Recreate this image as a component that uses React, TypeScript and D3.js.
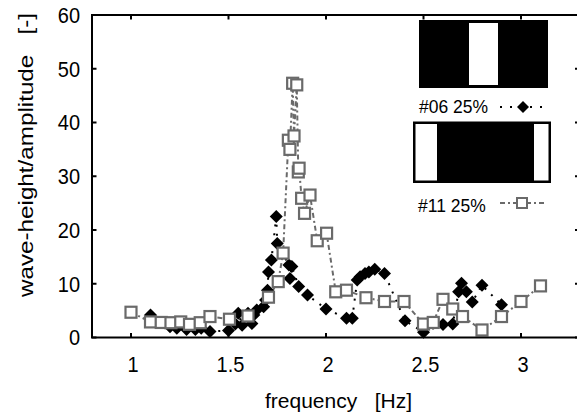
import React from "react";
import * as d3 from "d3";

const xTicks = [1, 1.5, 2, 2.5, 3];
const yTicks = [0, 10, 20, 30, 40, 50, 60];

const s06Freq = [1.10, 1.20, 1.235, 1.285, 1.33, 1.36, 1.405, 1.50, 1.535, 1.55, 1.57, 1.60, 1.62, 1.63, 1.645, 1.68, 1.69, 1.70, 1.705, 1.72, 1.745, 1.75, 1.81, 1.815, 1.825, 1.86, 1.905, 2.00, 2.105, 2.135, 2.16, 2.175, 2.20, 2.22, 2.25, 2.30, 2.405, 2.50, 2.60, 2.65, 2.68, 2.695, 2.72, 2.75, 2.80, 2.90];
const s06Amp = [4.2, 2.0, 1.7, 1.5, 1.5, 1.7, 1.1, 1.3, 2.5, 4.5, 2.3, 4.5, 2.6, 4.2, 5.1, 5.7, 7.0, 8.8, 12.2, 14.4, 22.5, 17.5, 13.5, 11.0, 13.2, 9.5, 7.9, 5.3, 3.6, 3.6, 10.7, 11.3, 11.9, 12.2, 12.7, 11.9, 3.1, 1.0, 2.4, 2.5, 8.5, 10.1, 8.5, 6.6, 9.7, 6.1];

const s11Freq = [1.00, 1.10, 1.155, 1.205, 1.255, 1.30, 1.355, 1.405, 1.505, 1.60, 1.705, 1.755, 1.78, 1.807, 1.815, 1.829, 1.836, 1.85, 1.858, 1.862, 1.875, 1.89, 1.918, 1.955, 2.003, 2.05, 2.105, 2.205, 2.30, 2.40, 2.50, 2.55, 2.60, 2.65, 2.70, 2.80, 2.90, 3.00, 3.10];
const s11Amp = [4.7, 2.9, 2.8, 2.75, 2.9, 2.45, 2.75, 3.9, 3.4, 4.0, 7.5, 10.4, 15.7, 36.7, 35.0, 47.3, 37.5, 47.0, 30.8, 31.5, 25.9, 23.1, 26.5, 18.0, 19.4, 8.5, 8.8, 7.4, 6.7, 6.7, 2.5, 2.8, 7.1, 5.3, 3.9, 1.4, 3.9, 6.7, 9.6];

const legendLabels = ["#06 25%", "#11 25%"];
const xTitle = "frequency   [Hz]";
const yTitle = "wave-height/amplitude   [-]";

const W = 577, H = 412;
const FONT = "'Liberation Sans', Arial, Helvetica, sans-serif";
const GRAY = "#6a6a6a";

const diamond = (cx: number, cy: number, r: number) =>
  `M${cx},${cy - r}L${cx + r},${cy}L${cx},${cy + r}L${cx - r},${cy}Z`;

export default function App() {
  const x = d3.scaleLinear().domain([0.8, 3.3]).range([92, 579.5]);
  const y = d3.scaleLinear().domain([0, 60]).range([337.5, 15]);
  const [x0, x1] = x.range();
  const [y0, y1] = y.range();

  const s06 = s06Freq.map((f, i) => [f, s06Amp[i]] as [number, number]);
  const s11 = s11Freq.map((f, i) => [f, s11Amp[i]] as [number, number]);
  const line = d3.line<[number, number]>().x(d => x(d[0])).y(d => y(d[1]));

  return (
    <svg width={W} height={H} style={{ position: "absolute", left: 0, top: 0, background: "#fff" }} fontFamily={FONT}>
      <rect x={0} y={0} width={W} height={H} fill="#fff" />
      {/* ticks */}
      {xTicks.map(t => (
        <g key={"xt" + t}>
          <line x1={x(t)} x2={x(t)} y1={y0} y2={y0 - 4.5} stroke="#000" strokeWidth={2} />
          <line x1={x(t)} x2={x(t)} y1={y1} y2={y1 + 4.5} stroke="#000" strokeWidth={2} />
          <text transform={`translate(${x(t) + 2},372) scale(1,1.08)`} fontSize={20} textAnchor="middle" fill="#000">{t}</text>
        </g>
      ))}
      {yTicks.map(t => (
        <g key={"yt" + t}>
          <line x1={x0} x2={x0 + 4.5} y1={y(t)} y2={y(t)} stroke="#000" strokeWidth={2} />
          <line x1={x1} x2={x1 - 4.5} y1={y(t)} y2={y(t)} stroke="#000" strokeWidth={2} />
          <text transform={`translate(80,${y(t) + 7.8}) scale(1,1.08)`} fontSize={20} textAnchor="end" fill="#000">{t}</text>
        </g>
      ))}
      {/* lines */}
      <path d={line(s06) || ""} fill="none" stroke="#000" strokeWidth={2} strokeDasharray="2 7" />
      <path d={line(s11) || ""} fill="none" stroke={GRAY} strokeWidth={2} strokeDasharray="5 3 2 3" />
      {/* markers */}
      {s06.map((d, i) => (
        <path key={"d" + i} d={diamond(x(d[0]), y(d[1]), 6.5)} fill="#000" />
      ))}
      {s11.map((d, i) => (
        <rect key={"s" + i} x={x(d[0]) - 5.5} y={y(d[1]) - 5.5} width={11} height={11} fill="#fff" stroke={GRAY} strokeWidth={2.2} />
      ))}
      {/* frame */}
      <rect x={x0} y={y1} width={x1 - x0} height={y0 - y1} fill="none" stroke="#000" strokeWidth={2} />

      {/* legend 1 */}
      <rect x={419} y={20} width={129} height={68} fill="#000" />
      <rect x={469} y={23} width={29} height={62} fill="#fff" />
      <text transform="translate(419,113) scale(1,1.08)" fontSize={17.5} fill="#000">{legendLabels[0]}</text>
      <line x1={500} x2={547} y1={107} y2={107} stroke="#000" strokeWidth={2} strokeDasharray="2 8" />
      <path d={diamond(523, 107, 6)} fill="#000" />

      {/* legend 2 */}
      <rect x={414} y={122.5} width={136} height={59.5} fill="#000" stroke="#000" strokeWidth={2} />
      <rect x={415.5} y={124} width={21.5} height={56.5} fill="#fff" />
      <rect x={534} y={124} width={14.5} height={56.5} fill="#fff" />
      <text transform="translate(418,212) scale(1,1.08)" fontSize={17.5} fill="#000">{legendLabels[1]}</text>
      <line x1={500} x2={547} y1={203} y2={203} stroke={GRAY} strokeWidth={2} strokeDasharray="5 3 2 3" />
      <rect x={517} y={198} width={10} height={10} fill="#fff" stroke={GRAY} strokeWidth={2} />

      {/* axis titles */}
      <text x={265} y={408} fontSize={21} textLength={147} lengthAdjust="spacingAndGlyphs" fill="#000" style={{ whiteSpace: "pre" }} xmlSpace="preserve">{xTitle}</text>
      <text transform="translate(33,297) rotate(-90)" x={0} y={0} fontSize={21} textLength={284} lengthAdjust="spacingAndGlyphs" fill="#000" style={{ whiteSpace: "pre" }} xmlSpace="preserve">{yTitle}</text>
    </svg>
  );
}
